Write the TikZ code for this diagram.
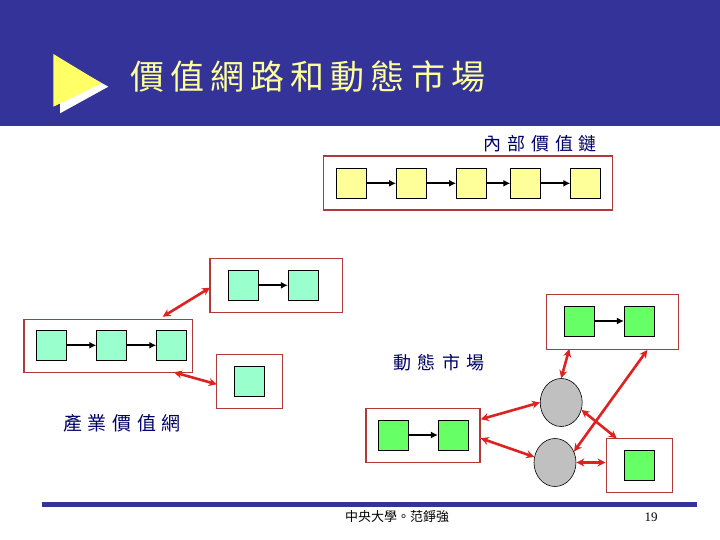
\documentclass[tikz,border=0pt]{standalone}
\usepackage{fontspec}
\setmainfont{Liberation Serif}
\newfontfamily\cjk{Noto Sans CJK TC}
\usetikzlibrary{shapes.geometric,arrows.meta}
\definecolor{hdrblue}{HTML}{333399}
\definecolor{titleyel}{HTML}{FFFF99}
\definecolor{tri}{HTML}{FFFF66}
\definecolor{boxred}{HTML}{B03A3A}
\definecolor{arrred}{HTML}{DD2222}
\definecolor{mint}{HTML}{99FFCC}
\definecolor{lime}{HTML}{66FF66}
\definecolor{paleyel}{HTML}{FFFF99}
\definecolor{greyell}{HTML}{C0C0C0}
\definecolor{navy}{HTML}{000066}
\tikzset{
  frame/.style={draw=boxred, line width=1.1pt, fill=white},
  sq/.style={draw=black, line width=0.8pt, minimum size=30pt, inner sep=0pt},
  ysq/.style={sq, fill=paleyel},
  msq/.style={sq, fill=mint},
  gsq/.style={sq, fill=lime},
  mkt/.style={ellipse, draw=black, line width=0.6pt, fill=greyell, minimum width=42pt, minimum height=48pt, inner sep=0pt},
  flow/.style={draw=black, line width=2.2pt, -{Latex[length=7pt,width=7pt]}, shorten >=0pt},
  link/.style={draw=arrred, line width=2.6pt, {Stealth[length=8pt,width=8pt]}-{Stealth[length=8pt,width=8pt]}},
  lbl/.style={text=navy, inner sep=0pt, anchor=west}
}
\begin{document}
\begin{tikzpicture}[x=1pt,y=-1pt]
\useasboundingbox (0,0) rectangle (720,540);
\fill[white] (0,0) rectangle (720,540);
% header
\fill[hdrblue] (0,0) rectangle (720,126);
\fill[white] (60,113.3) -- (60,60) -- (108.3,86.7) -- cycle;
\fill[tri] (53.3,106.7) -- (53.3,54) -- (101.7,83.3) -- cycle;
\node[inner sep=0pt, anchor=west, text=titleyel] (title) at (130,77)
  {\cjk\addfontfeature{LetterSpace=18}\fontsize{34}{40}\selectfont 價值網路和動態市場};
% internal value chain
\node[lbl] (lblA) at (483,144) {\cjk\addfontfeature{LetterSpace=33}\fontsize{18}{20}\selectfont 內部價值鏈};
\node[frame, minimum width=289pt, minimum height=54pt, inner sep=0pt] (chain) at (468.3,183) {};
\node[ysq] (y1) at (351.5,183.3) {};
\node[ysq] (y2) at (411.5,183.3) {};
\node[ysq] (y3) at (471.5,183.3) {};
\node[ysq] (y4) at (525.7,183.3) {};
\node[ysq] (y5) at (585.7,183.3) {};
\draw[flow] (y1) -- (y2);
\draw[flow] (y2) -- (y3);
\draw[flow] (y3) -- (y4);
\draw[flow] (y4) -- (y5);
% industry value net
\node[frame, minimum width=132.7pt, minimum height=54pt, inner sep=0pt] (bA) at (276.3,285.3) {};
\node[msq] (a1) at (243.3,285.3) {};
\node[msq] (a2) at (303.3,285.3) {};
\draw[flow] (a1) -- (a2);
\node[frame, minimum width=168.7pt, minimum height=53.3pt, inner sep=0pt] (bB) at (108.3,345.7) {};
\node[msq] (b1) at (51,345.3) {};
\node[msq] (b2) at (111.7,345.3) {};
\node[msq] (b3) at (171.7,345.3) {};
\draw[flow] (b1) -- (b2);
\draw[flow] (b2) -- (b3);
\node[frame, minimum width=66pt, minimum height=54pt, inner sep=0pt] (bC) at (249.7,381.3) {};
\node[msq] (c1) at (249.3,381.3) {};
\coordinate (pB1) at (162.7,316.7);
\coordinate (pA1) at (210,287.7);
\coordinate (pB2) at (174,372.3);
\coordinate (pC1) at (216.7,384.3);
\draw[link] (pB1) -- (pA1);
\draw[link] (pB2) -- (pC1);
\node[lbl] (lblB) at (63,423) {\cjk\addfontfeature{LetterSpace=30}\fontsize{19}{21}\selectfont 產業價值網};
% dynamic market
\node[lbl] (lblC) at (393,363) {\cjk\addfontfeature{LetterSpace=36}\fontsize{18}{20}\selectfont 動態市場};
\node[frame, minimum width=132.3pt, minimum height=54.7pt, inner sep=0pt] (bD) at (612.2,321.7) {};
\node[gsq] (d1) at (579.2,321) {};
\node[gsq] (d2) at (639.3,321) {};
\draw[flow] (d1) -- (d2);
\node[frame, minimum width=114pt, minimum height=54.4pt, inner sep=0pt] (bE) at (423,435.5) {};
\node[gsq] (e1) at (393.3,435) {};
\node[gsq] (e2) at (453.3,435) {};
\draw[flow] (e1) -- (e2);
\node[frame, minimum width=66.3pt, minimum height=54pt, inner sep=0pt] (bF) at (639.2,465.3) {};
\node[gsq] (f1) at (639.3,465) {};
\node[mkt] (m1) at (561.2,402.5) {};
\node[mkt] (m2) at (555,462.5) {};
\coordinate (pD1) at (569.3,349);
\coordinate (pD2) at (647.3,350);
\coordinate (pE1) at (480.7,419.3);
\coordinate (pE2) at (480.7,438.3);
\coordinate (pF1) at (616.7,438.3);
\draw[link] (pD1) -- (m1.north);
\draw[link] (pD2) -- (m2.30);
\draw[link] (pE1) -- (m1.west);
\draw[link] (pE2) -- (m2.165);
\draw[link] (m1.-20) -- (pF1);
\draw[link] (m2.east) -- (bF.west |- m2.east);
% footer
\fill[hdrblue] (42,502) rectangle (697,507);
\node[inner sep=0pt] (foot) at (397,517) {\cjk\fontsize{13}{15}\selectfont 中央大學。范錚強};
\node[inner sep=0pt] (page) at (651,517) {\fontsize{13}{15}\selectfont 19};
\end{tikzpicture}
\end{document}
